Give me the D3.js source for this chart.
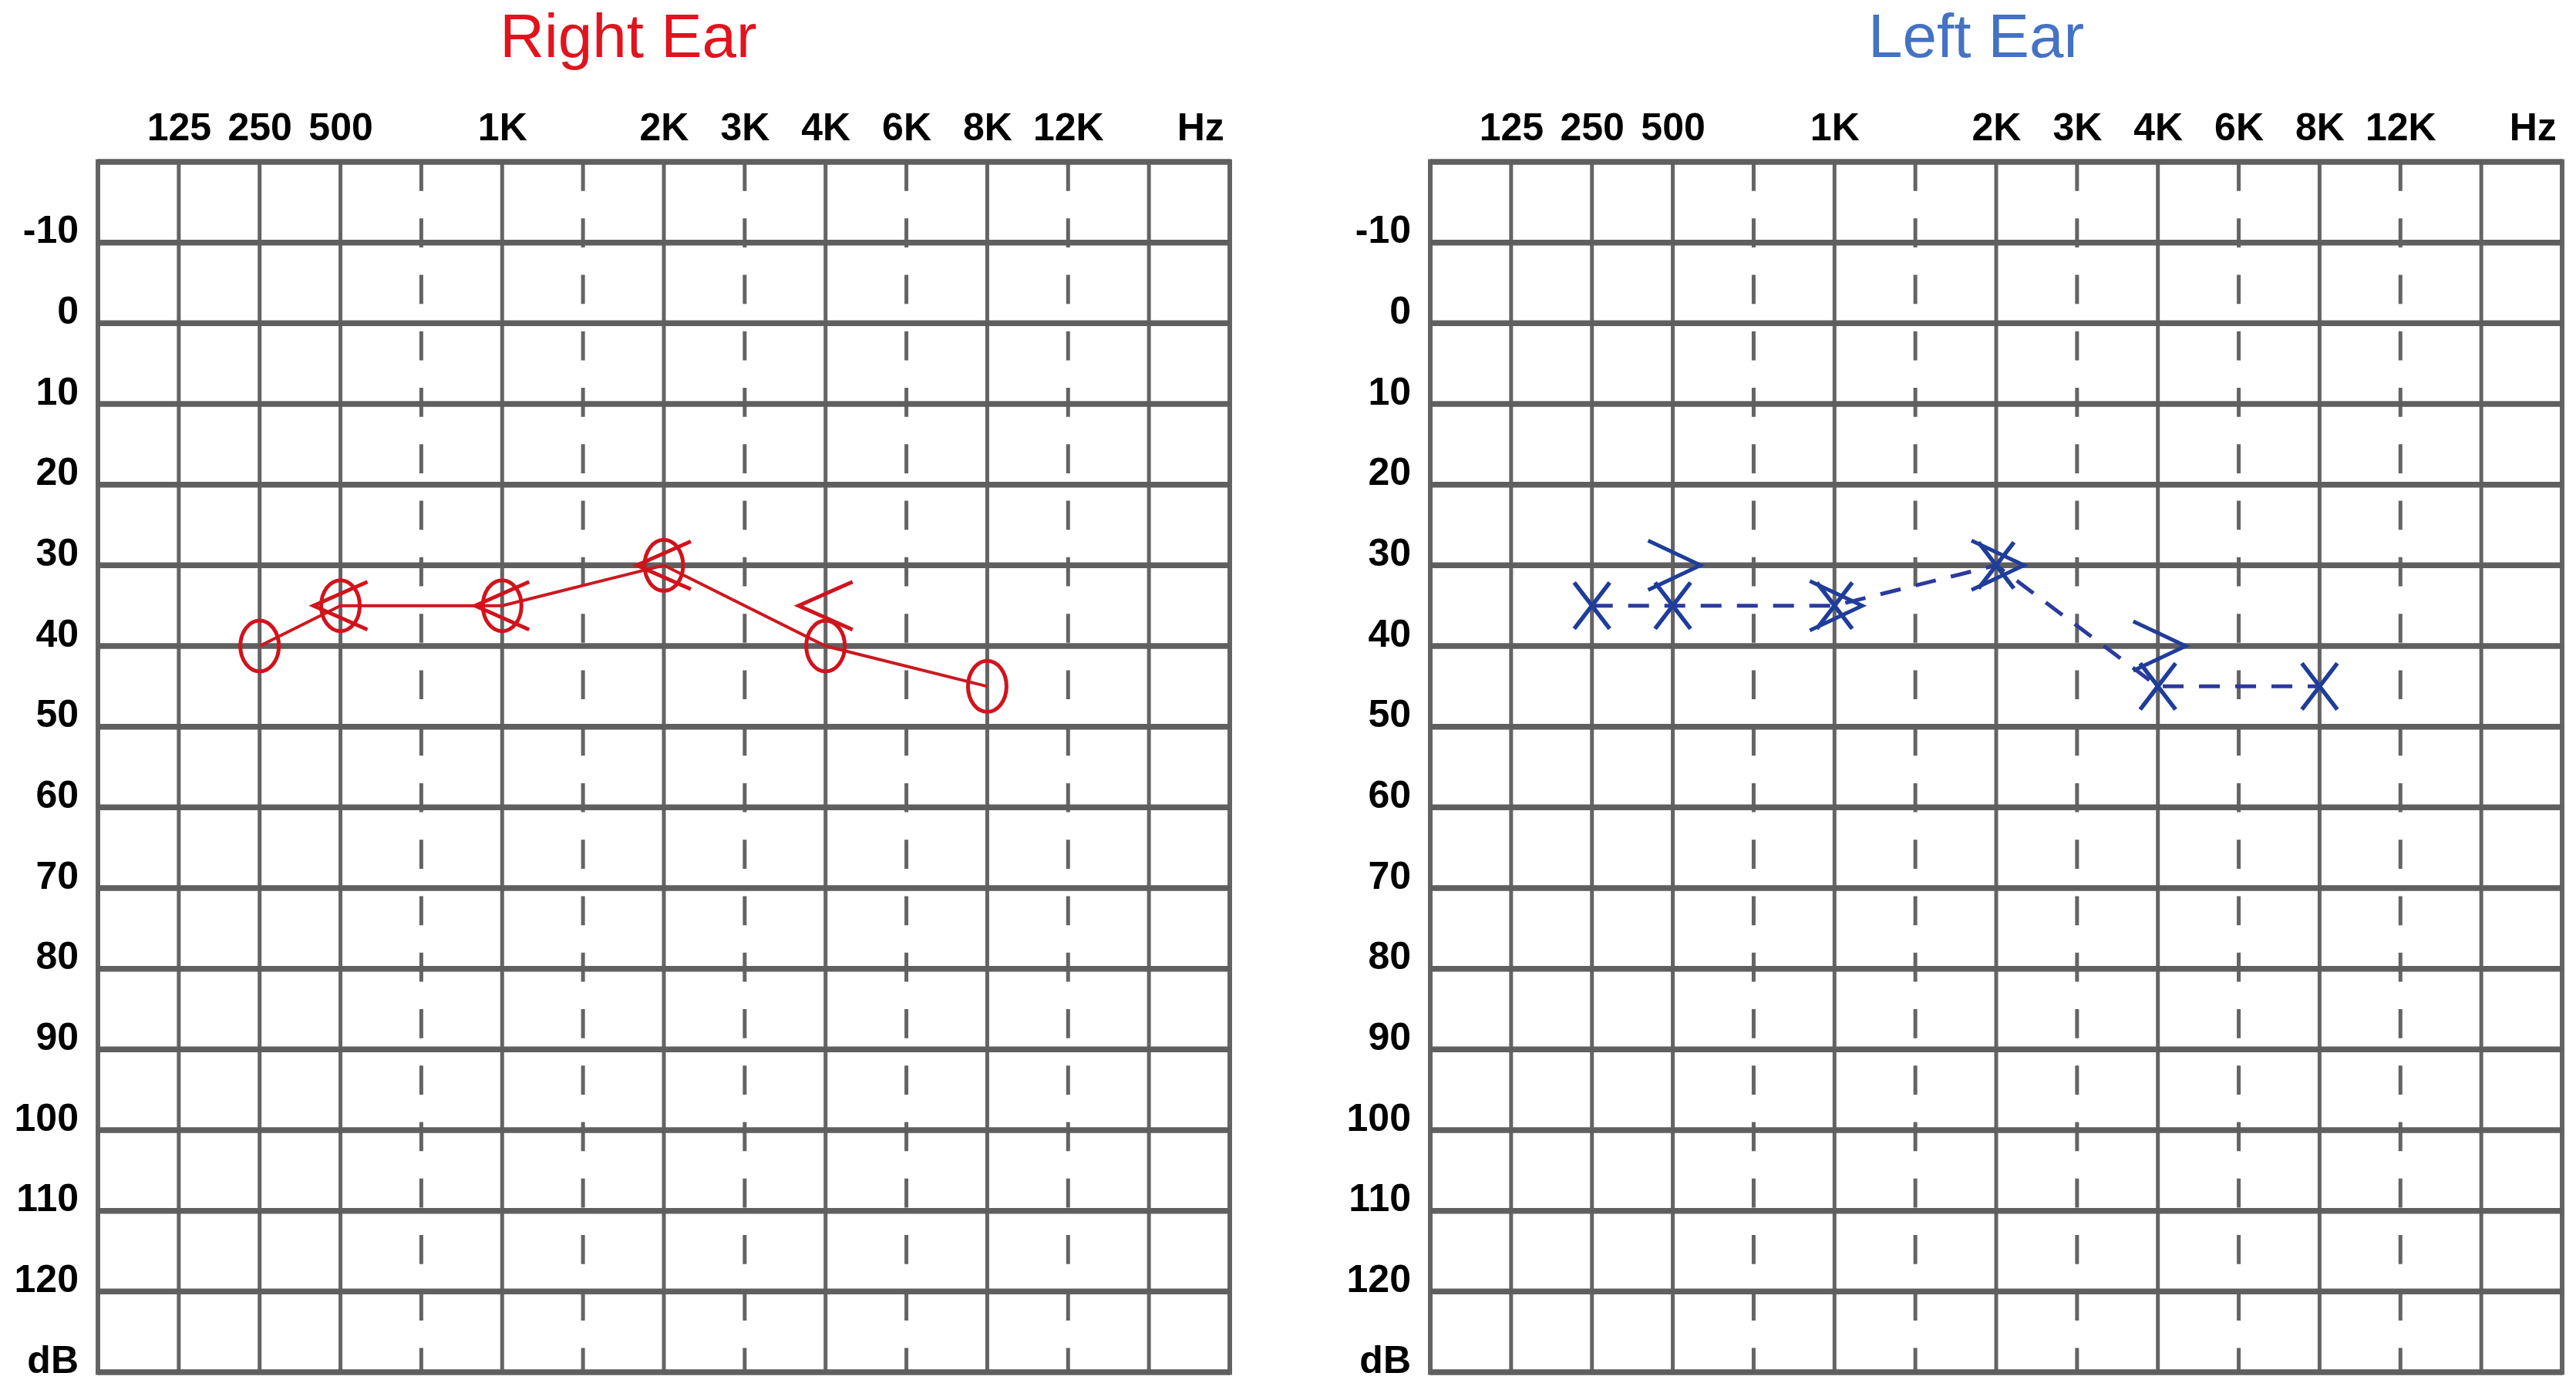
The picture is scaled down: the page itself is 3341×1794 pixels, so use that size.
<!DOCTYPE html>
<html>
<head>
<meta charset="utf-8">
<script src="https://cdnjs.cloudflare.com/ajax/libs/d3/7.8.5/d3.min.js"></script>
<style>
    body { margin: 0; background: #fff; }
    svg { display: block; }
</style>
</head>
<body>
<svg width="3341" height="1794"></svg>
<script>
// audiogram columns (one column per frequency)
var freqs = [125, 250, 500, 750, 1000, 1500, 2000, 3000, 4000, 6000, 8000, 12000, 16000];
var halfOctaves = [750, 1500, 3000, 6000, 12000];
var freqLabels = [125, 250, 500, 1000, 2000, 3000, 4000, 6000, 8000, 12000];
var dbTicks = [-10, 0, 10, 20, 30, 40, 50, 60, 70, 80, 90, 100, 110, 120];

// right ear: air conduction (O) and bone conduction (<)
var rightAirFreq = [250, 500, 1000, 2000, 4000, 8000];
var rightAirDb = [40, 35, 35, 30, 40, 45];
var rightBoneFreq = [500, 1000, 2000, 4000];
var rightBoneDb = [35, 35, 30, 35];

// left ear: air conduction (X) and bone conduction (>)
var leftAirFreq = [250, 500, 1000, 2000, 4000, 8000];
var leftAirDb = [35, 35, 35, 30, 45, 45];
var leftBoneFreq = [500, 1000, 2000, 4000];
var leftBoneDb = [30, 35, 30, 40];

var svg = d3.select("svg");
var W = 1468, H = 1570;
var font = "'Liberation Sans', Arial, sans-serif";

function zip(fs, dbs) {
    return fs.map(function (f, i) { return { f: f, db: dbs[i] }; });
}

function drawPanel(left, opts) {
    var g = svg.append("g").attr("transform", "translate(" + left + ",210)");

    var x = d3.scalePoint().domain(freqs).range([0, W]).padding(1);
    var y = d3.scaleLinear().domain([-20, 130]).range([0, H]);
    var step = x.step();
    var row = y(0) - y(-10);

    // vertical grid
    g.selectAll(".v")
        .data(freqs)
        .enter().append("line")
        .attr("x1", function (d) { return x(d); })
        .attr("x2", function (d) { return x(d); })
        .attr("y1", 0).attr("y2", H)
        .attr("stroke", "#646464")
        .attr("stroke-width", 5)
        .attr("stroke-dasharray", function (d) {
            return halfOctaves.indexOf(d) >= 0 ? (0.36 * row) + "," + (0.34 * row) : null;
        });

    g.selectAll(".b")
        .data(x.range())
        .enter().append("line")
        .attr("x1", function (d) { return d; })
        .attr("x2", function (d) { return d; })
        .attr("y1", -3.5).attr("y2", H + 3.5)
        .attr("stroke", "#646464")
        .attr("stroke-width", 6);

    // horizontal grid
    var hLines = [y.domain()[0]].concat(dbTicks, [y.domain()[1]]);
    g.selectAll(".h")
        .data(hLines)
        .enter().append("line")
        .attr("x1", 0).attr("x2", W)
        .attr("y1", function (d) { return y(d); })
        .attr("y2", function (d) { return y(d); })
        .attr("stroke", "#5f5f5f")
        .attr("stroke-width", 7.5);

    // frequency labels
    var xAxis = g.append("g")
        .call(d3.axisTop(x)
            .tickValues(freqLabels)
            .tickSize(0)
            .tickPadding(28)
            .tickFormat(function (d) { return d >= 1000 ? (d / 1000) + "K" : d; }));
    xAxis.select(".domain").remove();
    xAxis.append("text")
        .attr("x", x(16000) + step * 0.64)
        .attr("y", -28)
        .attr("fill", "#000")
        .attr("text-anchor", "middle")
        .text("Hz");

    // dB labels
    var yAxis = g.append("g")
        .call(d3.axisLeft(y)
            .tickValues(dbTicks.concat([130]))
            .tickSize(0)
            .tickPadding(25)
            .tickFormat(function (d) { return d === 130 ? "dB" : String(d); }));
    yAxis.select(".domain").remove();
    yAxis.selectAll("text").attr("dy", "0");

    [xAxis, yAxis].forEach(function (a) {
        a.attr("font-family", font)
            .attr("font-size", 50)
            .attr("font-weight", "bold");
        a.selectAll("text").attr("fill", "#000");
    });

    // title
    svg.append("text")
        .attr("x", opts.titleX)
        .attr("y", 74)
        .attr("text-anchor", "middle")
        .attr("font-family", font)
        .attr("font-size", 80)
        .attr("fill", opts.titleColor)
        .text(opts.title);

    // connecting line
    var line = d3.line()
        .x(function (d) { return x(d.f); })
        .y(function (d) { return y(d.db); });

    g.append("path")
        .datum(opts.air)
        .attr("d", line)
        .attr("fill", "none")
        .attr("stroke", opts.lineColor)
        .attr("stroke-width", opts.lineWidth)
        .attr("stroke-dasharray", opts.dash);

    // bone conduction markers
    g.selectAll(".bone")
        .data(opts.bone)
        .enter().append("path")
        .attr("transform", function (d) { return "translate(" + x(d.f) + "," + y(d.db) + ")"; })
        .attr("d", opts.boneShape)
        .attr("fill", "none")
        .attr("stroke", opts.markColor)
        .attr("stroke-width", 5)
        .attr("stroke-linejoin", "miter");

    // air conduction markers
    var m = g.selectAll(".air")
        .data(opts.air)
        .enter().append("g")
        .attr("transform", function (d) { return "translate(" + x(d.f) + "," + y(d.db) + ")"; });

    if (opts.airShape === "O") {
        m.append("ellipse")
            .attr("rx", 25).attr("ry", 33)
            .attr("fill", "none")
            .attr("stroke", opts.markColor)
            .attr("stroke-width", 5);
    } else {
        m.append("path")
            .attr("d", "M-23,-30L23,30M23,-30L-23,30")
            .attr("fill", "none")
            .attr("stroke", opts.markColor)
            .attr("stroke-width", 5.5);
    }
}

drawPanel(127, {
    title: "Right Ear", titleX: 815, titleColor: "#e0141e",
    air: zip(rightAirFreq, rightAirDb),
    bone: zip(rightBoneFreq, rightBoneDb),
    airShape: "O",
    boneShape: "M35,-31L-35,0L35,31",
    markColor: "#d0141c", lineColor: "#cc1820", lineWidth: 4, dash: null
});

drawPanel(1855, {
    title: "Left Ear", titleX: 2563, titleColor: "#4472c4",
    air: zip(leftAirFreq, leftAirDb),
    bone: zip(leftBoneFreq, leftBoneDb),
    airShape: "X",
    boneShape: "M-32,-32L36,0L-32,32",
    markColor: "#1f3d99", lineColor: "#2b3a9e", lineWidth: 5, dash: "27,20"
});
</script>
</body>
</html>
